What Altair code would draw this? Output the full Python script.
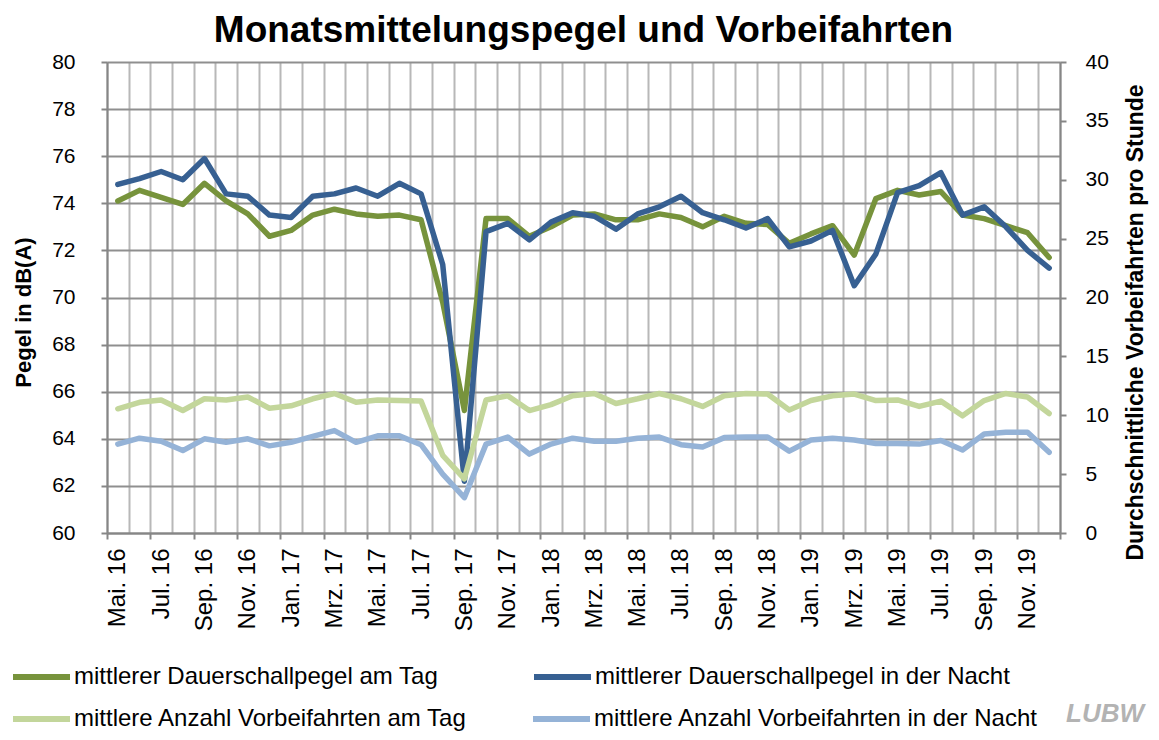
import altair as alt
import pandas as pd

FONT = "Liberation Sans"
AXC = "#868686"
HGRID = "#8f8f8f"
VGRID = "#b8b8b8"

monate = [
    "Mai. 16", "Jun. 16", "Jul. 16", "Aug. 16", "Sep. 16", "Okt. 16", "Nov. 16", "Dez. 16",
    "Jan. 17", "Feb. 17", "Mrz. 17", "Apr. 17", "Mai. 17", "Jun. 17", "Jul. 17", "Aug. 17",
    "Sep. 17", "Okt. 17", "Nov. 17", "Dez. 17",
    "Jan. 18", "Feb. 18", "Mrz. 18", "Apr. 18", "Mai. 18", "Jun. 18", "Jul. 18", "Aug. 18",
    "Sep. 18", "Okt. 18", "Nov. 18", "Dez. 18",
    "Jan. 19", "Feb. 19", "Mrz. 19", "Apr. 19", "Mai. 19", "Jun. 19", "Jul. 19", "Aug. 19",
    "Sep. 19", "Okt. 19", "Nov. 19", "Dez. 19",
]

pegel_tag = [74.1, 74.55, 74.25, 73.95, 74.85, 74.1, 73.55, 72.6, 72.85, 73.5, 73.75, 73.55,
             73.45, 73.5, 73.3, 69.8, 65.2, 73.35, 73.35, 72.6, 73.0, 73.5, 73.55, 73.3,
             73.3, 73.55, 73.4, 73.0, 73.45, 73.15, 73.1, 72.3, 72.7, 73.05, 71.8, 74.2,
             74.55, 74.35, 74.5, 73.5, 73.35, 73.05, 72.75, 71.7]
pegel_nacht = [74.8, 75.05, 75.35, 75.0, 75.9, 74.4, 74.3, 73.5, 73.4, 74.3, 74.4, 74.65,
               74.3, 74.85, 74.4, 71.4, 62.2, 72.8, 73.15, 72.45, 73.2, 73.6, 73.45, 72.9,
               73.55, 73.85, 74.3, 73.6, 73.3, 72.95, 73.35, 72.15, 72.4, 72.85, 70.5, 71.85,
               74.45, 74.75, 75.3, 73.5, 73.85, 73.0, 72.0, 71.25]
anzahl_tag = [10.55, 11.1, 11.3, 10.4, 11.4, 11.3, 11.55, 10.6, 10.8, 11.4, 11.85, 11.1,
              11.3, 11.25, 11.2, 6.6, 4.6, 11.3, 11.65, 10.4, 10.9, 11.65, 11.85, 11.0,
              11.4, 11.85, 11.4, 10.75, 11.65, 11.85, 11.8, 10.45, 11.25, 11.65, 11.8, 11.25,
              11.3, 10.75, 11.2, 9.95, 11.25, 11.85, 11.55, 10.15]
anzahl_nacht = [7.55, 8.05, 7.8, 7.0, 8.0, 7.7, 8.0, 7.4, 7.7, 8.2, 8.7, 7.7,
                8.25, 8.25, 7.5, 5.0, 3.0, 7.55, 8.15, 6.7, 7.55, 8.05, 7.8, 7.8,
                8.05, 8.15, 7.5, 7.3, 8.1, 8.15, 8.15, 6.95, 7.9, 8.05, 7.9, 7.6,
                7.6, 7.55, 7.85, 7.05, 8.4, 8.55, 8.55, 6.85]

reihen_pegel = ["mittlerer Dauerschallpegel am Tag", "mittlerer Dauerschallpegel in der Nacht"]
reihen_anzahl = ["mittlere Anzahl Vorbeifahrten am Tag", "mittlere Anzahl Vorbeifahrten in der Nacht"]
farben_pegel = ["#77933C", "#376092"]
farben_anzahl = ["#C3D69B", "#95B3D7"]

n = len(monate)
idx = list(range(n))

df_pegel = pd.DataFrame({
    "i": idx + idx,
    "Monat": monate + monate,
    "Reihe": [reihen_pegel[0]] * n + [reihen_pegel[1]] * n,
    "Wert": pegel_tag + pegel_nacht,
})
df_anzahl = pd.DataFrame({
    "i": idx + idx,
    "Monat": monate + monate,
    "Reihe": [reihen_anzahl[0]] * n + [reihen_anzahl[1]] * n,
    "Wert": anzahl_tag + anzahl_nacht,
})

label_arr = "[" + ",".join("'" + m + "'" for m in monate[0::2]) + "]"
label_expr = "datum.value % 2 == 0.5 ? " + label_arr + "[floor(datum.value / 2)] : ''"
x_values = sorted([float(v) for v in range(n + 1)] + [v + 0.5 for v in range(0, n, 2)])

x_axis = alt.Axis(
    values=x_values, labelExpr=label_expr, labelAngle=270, labelFontSize=24, labelFont=FONT,
    labelColor="black", labelPadding=9, labelOverlap=False, labelFlush=False, labelBound=False,
    tickSize=6, tickWidth=2, tickColor=AXC,
    tickOpacity={"condition": {"test": "datum.value % 2 == 0", "value": 1}, "value": 0},
    grid=True, gridColor=VGRID, gridWidth=2,
    gridOpacity={"condition": {"test": "datum.value % 1 == 0", "value": 1}, "value": 0},
    domainColor=AXC, domainWidth=2, title=None,
)
x_enc = alt.X("pos:Q", scale=alt.Scale(domain=[0, n], nice=False, zero=False), axis=x_axis)

left_axis = alt.Axis(
    orient="left", values=list(range(60, 81, 2)), title="Pegel in dB(A)",
    titleFont=FONT, titleFontSize=22, titleFontWeight="bold", titleColor="black",
    titleAngle=270, titleX=-84, titleY=250, titleAlign="center", titleBaseline="middle",
    labelFont=FONT, labelFontSize=21, labelColor="black", labelPadding=26,
    tickSize=6, tickWidth=2, tickColor=AXC, domainColor=AXC, domainWidth=2,
    grid=True, gridColor=HGRID, gridWidth=2,
)
right_axis = alt.Axis(
    orient="right", values=list(range(0, 41, 5)), title="Durchschnittliche Vorbeifahrten pro Stunde",
    titleFont=FONT, titleFontSize=23, titleFontWeight="bold", titleColor="black",
    titleAngle=270, titleX=75, titleY=260, titleAlign="center", titleBaseline="middle",
    labelFont=FONT, labelFontSize=21, labelColor="black", labelPadding=19,
    tickSize=6, tickWidth=2, tickColor=AXC, domainColor=AXC, domainWidth=2,
    grid=False,
)

def legende(y, colpad):
    return alt.Legend(
        title=None, orient="none", legendX=-97, legendY=y, direction="horizontal",
        symbolType="stroke", symbolSize=3249, symbolStrokeWidth=6, clipHeight=24,
        labelFont=FONT, labelFontSize=24, labelColor="black", labelOffset=1, labelLimit=0,
        columnPadding=colpad, padding=0,
    )

linie = dict(strokeWidth=5.5, strokeJoin="round", strokeCap="round")

pegel = alt.Chart(df_pegel).mark_line(**linie).transform_calculate(
    pos="datum.i + 0.5"
).encode(
    x=x_enc,
    y=alt.Y("Wert:Q", scale=alt.Scale(domain=[60, 80], nice=False, zero=False), axis=left_axis),
    color=alt.Color("Reihe:N", scale=alt.Scale(domain=reihen_pegel, range=farben_pegel),
                    legend=legende(603, 92)),
    detail="Reihe:N",
)

anzahl = alt.Chart(df_anzahl).mark_line(**linie).transform_calculate(
    pos="datum.i + 0.5"
).encode(
    x=x_enc,
    y=alt.Y("Wert:Q", scale=alt.Scale(domain=[0, 40], nice=False, zero=True), axis=right_axis),
    color=alt.Color("Reihe:N", scale=alt.Scale(domain=reihen_anzahl, range=farben_anzahl),
                    legend=legende(645, 62)),
    detail="Reihe:N",
)

logo = alt.Chart(pd.DataFrame({"logo": ["LUBW"]})).mark_text(
    font=FONT, fontSize=26, fontStyle="italic", fontWeight="bold", color="#b3b3b3",
    align="left", baseline="alphabetic",
).encode(text="logo:N", x=alt.value(959), y=alt.value(660))

chart = alt.layer(pegel, anzahl, logo).resolve_scale(
    y="independent", color="independent"
).properties(
    width=953, height=471,
    autosize=alt.AutoSizeParams(type="none"),
    padding={"left": 99, "top": 54, "right": 89, "bottom": 199},
    title=alt.TitleParams(
        text="Monatsmittelungspegel und Vorbeifahrten", font=FONT, fontSize=37,
        fontWeight="bold", color="black", anchor="middle", baseline="alphabetic",
        offset=-28,
    ),
).configure_view(stroke=None).configure(background="white")

chart.save("out.html", embed_options={"renderer": "svg", "actions": False})
